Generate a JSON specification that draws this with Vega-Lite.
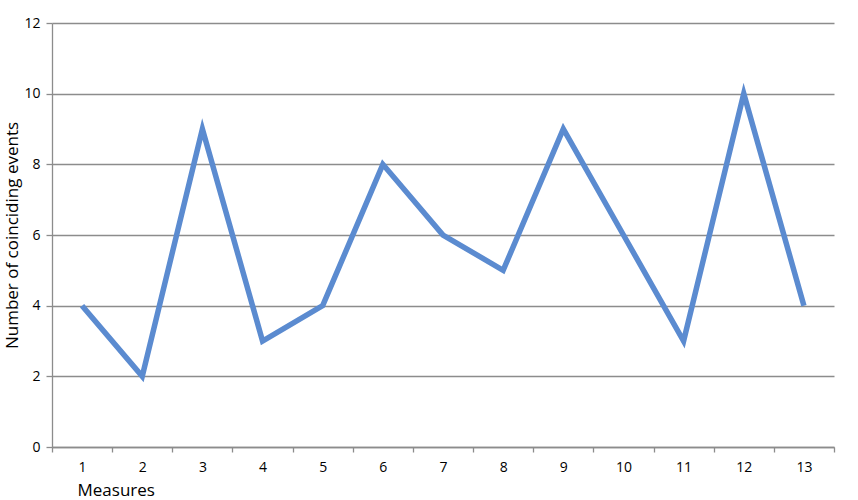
{
  "$schema": "https://vega.github.io/schema/vega-lite/v6.json",
  "width": 782,
  "height": 424,
  "autosize": "none",
  "padding": {"left": 52, "top": 23, "right": 24, "bottom": 53},
  "background": "white",
  "config": {
    "view": {"stroke": null},
    "font": "Open Sans",
    "axis": {"labelFont": "Open Sans", "titleFont": "Open Sans", "labelColor": "#000", "titleColor": "#000", "titleFontWeight": "normal"}
  },
  "data": {
    "values": [
      {"measure": "1", "events": 4},
      {"measure": "2", "events": 2},
      {"measure": "3", "events": 9},
      {"measure": "4", "events": 3},
      {"measure": "5", "events": 4},
      {"measure": "6", "events": 8},
      {"measure": "7", "events": 6},
      {"measure": "8", "events": 5},
      {"measure": "9", "events": 9},
      {"measure": "10", "events": 6},
      {"measure": "11", "events": 3},
      {"measure": "12", "events": 10},
      {"measure": "13", "events": 4}
    ]
  },
  "mark": {"type": "line", "color": "#5B8BD0", "strokeWidth": 5.5, "strokeJoin": "miter", "strokeCap": "butt"},
  "encoding": {
    "x": {
      "field": "measure",
      "type": "ordinal",
      "sort": null,
      "bandPosition": 0.5,
      "scale": {"type": "band", "paddingInner": 0, "paddingOuter": 0},
      "axis": {
        "title": "Measures",
        "titleFontSize": 17,
        "titleAnchor": "start",
        "titleAlign": "left",
        "titleX": 25,
        "titleY": 48,
        "titleBaseline": "alphabetic",
        "labelAngle": 0,
        "labelFontSize": 14,
        "labelPadding": 8,
        "tickBand": "extent",
        "tickSize": 5,
        "tickColor": "#8c8c8c",
        "domainColor": "#8c8c8c",
        "domainWidth": 1.3,
        "tickWidth": 1.3,
        "grid": false
      }
    },
    "y": {
      "field": "events",
      "type": "quantitative",
      "scale": {"domain": [0, 12], "nice": false},
      "axis": {
        "title": "Number of coinciding events",
        "titleFontSize": 17,
        "titleAngle": -90,
        "titleX": -40,
        "titleY": 212,
        "titleAlign": "center",
        "titleBaseline": "middle",
        "values": [0, 2, 4, 6, 8, 10, 12],
        "labelFontSize": 14,
        "labelPadding": 6,
        "tickSize": 6,
        "tickColor": "#8c8c8c",
        "domainColor": "#8c8c8c",
        "domainWidth": 1.3,
        "tickWidth": 1.3,
        "grid": true,
        "gridColor": "#8c8c8c",
        "gridWidth": 1.3
      }
    }
  }
}
